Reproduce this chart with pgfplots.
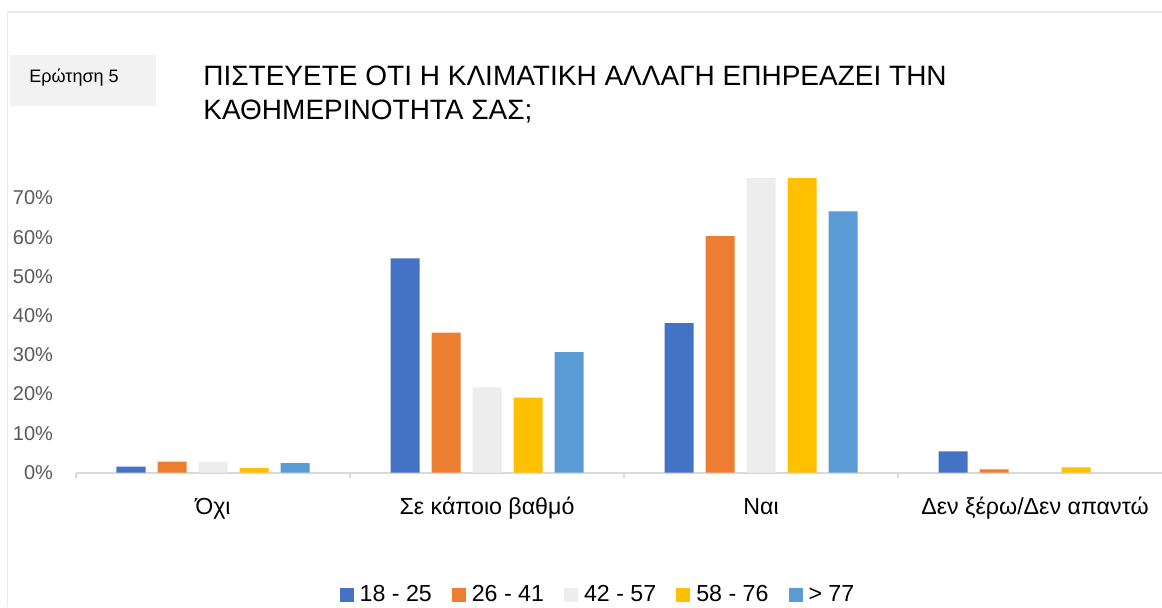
\documentclass[border=0pt]{standalone}
\usepackage{pgfplots}
\pgfplotsset{compat=1.18}
\usepackage{pgfplotstable}
\usepackage{fontspec}
\setmainfont{Liberation Sans}
\definecolor{c1}{HTML}{4472C4}
\definecolor{c2}{HTML}{ED7D31}
\definecolor{c3}{HTML}{EDEDED}
\definecolor{c4}{HTML}{FFC000}
\definecolor{c5}{HTML}{5B9BD5}
\definecolor{axisgray}{HTML}{D9D9D9}
\definecolor{tickgray}{HTML}{595959}
\definecolor{bordergray}{HTML}{EBEBEB}
\definecolor{boxgray}{HTML}{F2F2F2}
\pgfplotstableread{
x  a     b     c     d     e
0  1.5   2.8   2.8   1.2   2.4
1  54.6  35.7  21.7  19.1  30.7
2  38.1  60.3  76.0  76.0  66.6
3  5.4   0.8   nan   1.3   nan
}\data
\pgfplotsset{sq/.style={draw=none, fill=#1,
  legend image code/.code={\fill[#1] (0pt,-3.5pt) rectangle (7pt,3.5pt);}}}
\begin{document}
\begin{tikzpicture}[x=0.5pt,y=-0.5pt]
\useasboundingbox (0,0) rectangle (1162,607);
\fill[white] (0,0) rectangle (1162,607);
\draw[bordergray, line width=0.9pt] (7.5,607) -- (7.5,12) -- (1162,12);
\fill[boxgray] (10,55) rectangle (156,106);
\node[anchor=base west, inner sep=0, font=\fontsize{9}{11}\selectfont] at (29,82) {Ερώτηση 5};
\node[anchor=base west, inner sep=0, font=\fontsize{14}{16}\selectfont] at (203,85) {ΠΙΣΤΕΥΕΤΕ ΟΤΙ Η ΚΛΙΜΑΤΙΚΗ ΑΛΛΑΓΗ ΕΠΗΡΕΑΖΕΙ ΤΗΝ};
\node[anchor=base west, inner sep=0, font=\fontsize{14}{16}\selectfont] at (203,119) {ΚΑΘΗΜΕΡΙΝΟΤΗΤΑ ΣΑΣ;};
\begin{axis}[
  at={(38pt,-236.25pt)}, anchor=south west,
  width=548pt, height=147pt, scale only axis,
  ybar=6pt, bar width=14.5pt,
  xmin=-0.5, xmax=3.5, ymin=0, ymax=75,
  axis lines*=left,
  y axis line style={draw=none},
  x axis line style={axisgray, line width=1pt},
  tick align=outside,
  xtick={0,1,2,3},
  xticklabels={Όχι, Σε κάποιο βαθμό, Ναι, Δεν ξέρω/Δεν απαντώ},
  major tick length=0pt,
  extra x ticks={-0.5,0.5,1.5,2.5,3.5},
  extra x tick labels={},
  extra x tick style={major tick length=2.5pt, tick style={axisgray, line width=1pt}},
  ytick={0,10,...,70},
  ytick style={draw=none},
  yticklabel={\pgfmathprintnumber{\tick}\%},
  /pgf/number format/assume math mode=true,
  yticklabel style={font=\fontsize{10}{12}\selectfont, text=tickgray, xshift=-8pt},
  xticklabel style={font=\fontsize{11.6}{13}\selectfont, text=black, anchor=base, yshift=-20.75pt},
  legend style={at={(0.4767,-0.4167)}, anchor=center, draw=none, fill=none,
    legend columns=-1, font=\fontsize{11.6}{13}\selectfont,
    /tikz/every odd column/.append style={column sep=1.5pt},
    /tikz/every even column/.append style={column sep=8.5pt},
    nodes={inner sep=1.5pt}},
]
\addplot[sq=c1] table[x=x,y=a]{\data};
\addplot[sq=c2] table[x=x,y=b]{\data};
\addplot[sq=c3] table[x=x,y=c]{\data};
\addplot[sq=c4] table[x=x,y=d]{\data};
\addplot[sq=c5] table[x=x,y=e]{\data};
\legend{18 - 25, 26 - 41, 42 - 57, 58 - 76, > 77}
\end{axis}
\end{tikzpicture}
\end{document}
